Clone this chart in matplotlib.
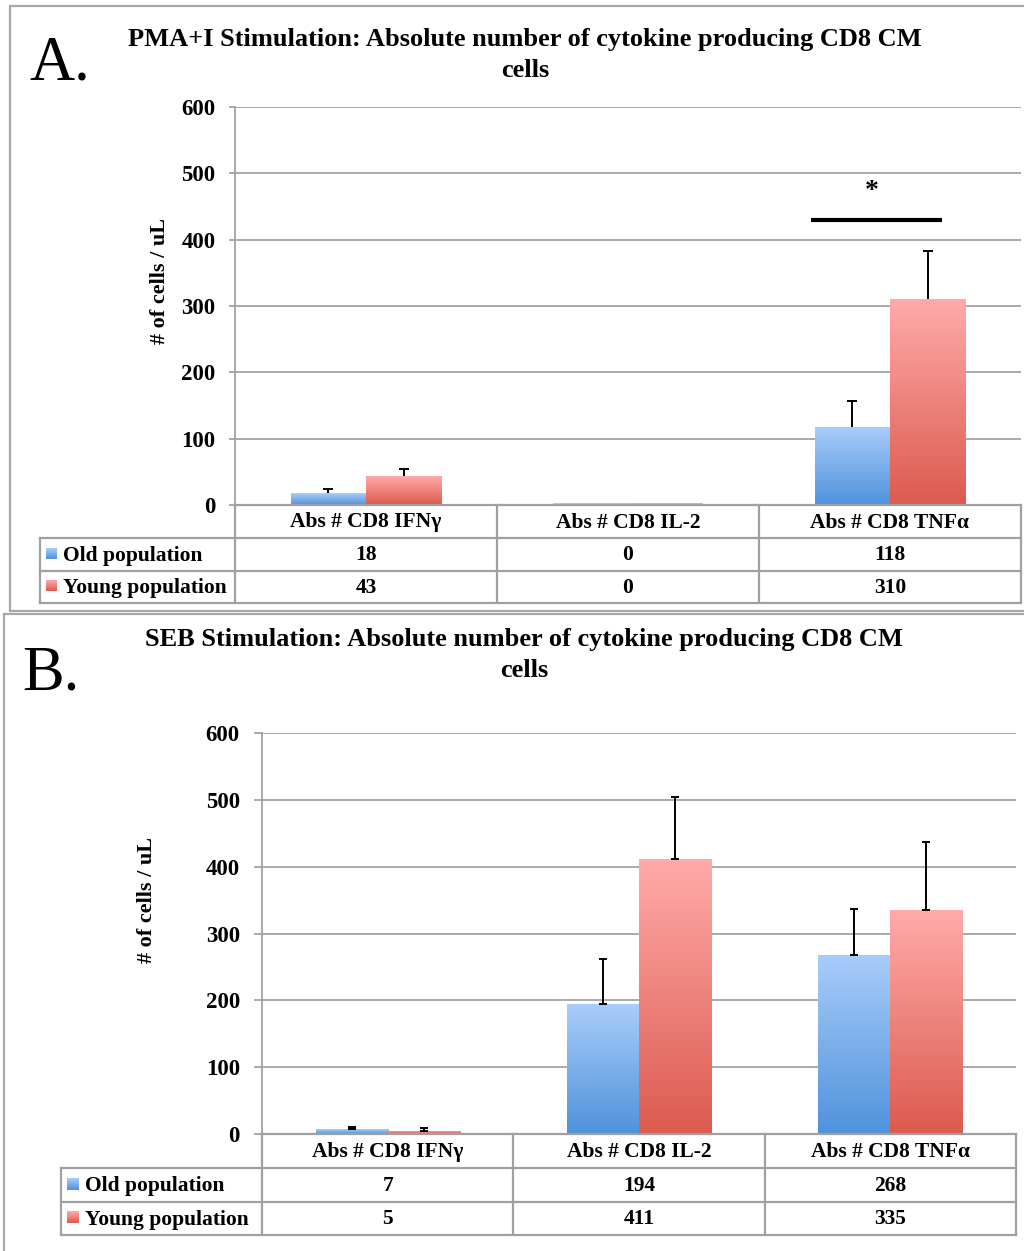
import numpy as np
import matplotlib
matplotlib.use("Agg")
import matplotlib.pyplot as plt
from matplotlib.colors import LinearSegmentedColormap

# ---- data -------------------------------------------------------------
categories = ["Abs # CD8 IFNγ", "Abs # CD8 IL-2", "Abs # CD8 TNFα"]
series_names = ["Old population", "Young population"]

pma_old = [18, 0, 118]
pma_young = [43, 0, 310]
pma_old_err = [6, 0, 39]
pma_young_err = [11, 0, 73]

seb_old = [7, 194, 268]
seb_young = [5, 411, 335]
seb_old_err = [3.5, 68, 69]
seb_young_err = [4, 93, 102]

y_ticks = [0, 100, 200, 300, 400, 500, 600]

# significance bracket for panel A (x in category units, y in cells/uL)
sig_x = [1.70, 2.20]
sig_y = 430
sig_star_x = 1.93
sig_star_y = 473

titles = ["PMA+I Stimulation: Absolute number of cytokine producing CD8 CM\ncells",
          "SEB Stimulation: Absolute number of cytokine producing CD8 CM\ncells"]
panel_letters = ["A.", "B."]
y_label = "# of cells / uL"

# ---- style ------------------------------------------------------------
W, H = 1024, 1251
SERIF = ["Liberation Serif", "DejaVu Serif"]
GRID = "#a3a3a3"
TABLE = "#a0a0a0"
blue_cmap = LinearSegmentedColormap.from_list("blue", ["#4f92dc", "#a9cdf9"])
red_cmap = LinearSegmentedColormap.from_list("red", ["#dc5a4e", "#ffabaa"])

fig = plt.figure(figsize=(W / 100, H / 100), dpi=100)
canvas = fig.add_axes([0, 0, 1, 1], zorder=5)
canvas.set_xlim(0, W)
canvas.set_ylim(H, 0)
canvas.axis("off")


def to_px(ax, x, y):
    """Data coordinates of ax -> canvas pixel coordinates."""
    dx, dy = ax.transData.transform((x, y))
    return dx, H - dy


def gradient_bars(ax, xs, heights, width, cmap, align):
    bars = ax.bar(xs, heights, width=width, align=align, color="none",
                  edgecolor="none", zorder=2)
    grad = np.linspace(0, 1, 256).reshape(-1, 1)
    for b in bars:
        if b.get_height() <= 0:
            continue
        x0, w, h = b.get_x(), b.get_width(), b.get_height()
        im = ax.imshow(grad, cmap=cmap, origin="lower", aspect="auto",
                       extent=(x0, x0 + w, 0, h), zorder=2)
        im.set_clip_path(b)
    return bars


def draw_panel(rect_px, old, young, old_err, young_err, title, letter,
               box, letter_xy, title_xy, ylabel_xy, table_left, row_h,
               tick_len, tick_pad, both_caps, legend_sq, legend_text_dx):
    left, top, right, bottom = rect_px
    ax = fig.add_axes([left / W, 1 - bottom / H, (right - left) / W,
                       (bottom - top) / H])
    n = len(categories)
    x = np.arange(n)
    bw = 0.287
    gradient_bars(ax, x, old, -bw, blue_cmap, "edge")
    gradient_bars(ax, x, young, bw, red_cmap, "edge")

    # thin baseline traces for zero-valued bars
    for i in range(n):
        if old[i] == 0 and young[i] == 0:
            ax.plot([x[i] - bw, x[i]], [0.8, 0.8], color="#9cc2ef", lw=1.2,
                    zorder=2, solid_capstyle="butt")
            ax.plot([x[i], x[i] + bw], [0.8, 0.8], color="#ec9a95", lw=1.2,
                    zorder=2, solid_capstyle="butt")

    # error bars
    for xs, vals, errs in ((x - bw / 2, old, old_err), (x + bw / 2, young, young_err)):
        for xi, v, e in zip(xs, vals, errs):
            if e <= 0:
                continue
            if both_caps:
                ax.errorbar([xi], [v], yerr=[[0], [e]], fmt="none",
                            ecolor="black", elinewidth=1.4, capsize=3,
                            capthick=1.4, zorder=4)
            else:
                ax.vlines(xi, v, v + e, color="black", lw=1.4, zorder=4)
                ax.plot([xi], [v + e], marker="_", ms=7, mew=1.4,
                        color="black", zorder=4)

    ax.set_xlim(-0.5, n - 0.5)
    ax.set_ylim(0, 600)
    ax.set_yticks(y_ticks)
    ax.set_xticks([])
    ax.yaxis.grid(True, color=GRID, lw=1.3)
    ax.set_axisbelow(True)
    for s in ("top", "right", "bottom"):
        ax.spines[s].set_visible(False)
    ax.spines["left"].set_color(GRID)
    ax.spines["left"].set_linewidth(1.3)
    ax.tick_params(axis="y", length=tick_len, width=1.3, color=GRID,
                   pad=tick_pad, labelsize=16.5)
    for lab in ax.get_yticklabels():
        lab.set_fontfamily(SERIF)
        lab.set_fontweight("bold")

    # outer panel box
    bx0, by0, bx1, by1 = box
    canvas.plot([bx1, bx0, bx0, bx1], [by0, by0, by1, by1], color="#a8a8a8",
                lw=1.6, solid_joinstyle="miter")
    canvas.text(letter_xy[0], letter_xy[1], letter, family=SERIF, fontsize=45,
                ha="left", va="baseline")
    canvas.text(title_xy[0], title_xy[1], title, family=SERIF,
                fontweight="bold", fontsize=19, ha="center", va="top",
                linespacing=1.45)
    canvas.text(ylabel_xy[0], ylabel_xy[1], y_label, family=SERIF,
                fontweight="bold", fontsize=16, rotation=90, ha="center",
                va="center")

    # data table below the plot
    fig.canvas.draw()
    col_edges = [to_px(ax, i - 0.5, 0)[0] for i in range(n + 1)]
    y0 = to_px(ax, 0, 0)[1]
    rows = [y0, y0 + row_h[0], y0 + row_h[0] + row_h[1], y0 + sum(row_h)]
    lw = 1.6
    canvas.plot([col_edges[0], col_edges[-1]], [rows[0], rows[0]], color=TABLE, lw=lw)
    for r in rows[1:]:
        canvas.plot([table_left, col_edges[-1]], [r, r], color=TABLE, lw=lw)
    for c in col_edges:
        canvas.plot([c, c], [rows[0], rows[3]], color=TABLE, lw=lw)
    canvas.plot([table_left, table_left], [rows[1], rows[3]], color=TABLE, lw=lw)

    fs = 15.5
    for i, cat in enumerate(categories):
        cx = (col_edges[i] + col_edges[i + 1]) / 2
        canvas.text(cx, (rows[0] + rows[1]) / 2 + 1, cat, family=SERIF,
                    fontweight="bold", fontsize=fs, ha="center", va="center")
        for r, vals in enumerate((old, young)):
            canvas.text(cx, (rows[r + 1] + rows[r + 2]) / 2 + 1, str(vals[i]),
                        family=SERIF, fontweight="bold", fontsize=fs,
                        ha="center", va="center")
    for r, (name, cmap) in enumerate(zip(series_names, (blue_cmap, red_cmap))):
        yc = (rows[r + 1] + rows[r + 2]) / 2
        sq = legend_sq
        grad = np.linspace(0, 1, 64).reshape(-1, 1)
        canvas.imshow(grad, cmap=cmap, origin="upper", aspect="auto",
                      extent=(table_left + 6, table_left + 6 + sq,
                              yc - sq / 2 - 1, yc + sq / 2 - 1), zorder=3)
        canvas.text(table_left + legend_text_dx, yc + 1, name, family=SERIF,
                    fontweight="bold", fontsize=fs, ha="left", va="center")
    canvas.set_xlim(0, W)
    canvas.set_ylim(H, 0)
    return ax


ax_a = draw_panel((235, 107, 1021, 505), pma_old, pma_young, pma_old_err,
                  pma_young_err, titles[0], panel_letters[0],
                  box=(10, 6, 1030, 611), letter_xy=(29, 80), title_xy=(525, 28),
                  ylabel_xy=(160, 281), table_left=40, row_h=(33, 33, 32),
                  tick_len=4, tick_pad=10, both_caps=False, legend_sq=11,
                  legend_text_dx=23)

# significance bar and star in panel A
ax_a.plot(sig_x, [sig_y, sig_y], color="black", lw=3, zorder=5,
          solid_capstyle="butt", clip_on=False)
ax_a.text(sig_star_x, sig_star_y, "*", family=SERIF, fontweight="bold",
          fontsize=20, ha="center", va="center", zorder=5)

ax_b = draw_panel((262, 733, 1016, 1134), seb_old, seb_young, seb_old_err,
                  seb_young_err, titles[1], panel_letters[1],
                  box=(4, 614, 1030, 1260), letter_xy=(22, 690), title_xy=(524, 628),
                  ylabel_xy=(147, 900), table_left=61, row_h=(34, 34, 33),
                  tick_len=6, tick_pad=10, both_caps=True, legend_sq=12,
                  legend_text_dx=24)

canvas.set_xlim(0, W)
canvas.set_ylim(H, 0)
fig.savefig("out.png", dpi=100, facecolor="white")
